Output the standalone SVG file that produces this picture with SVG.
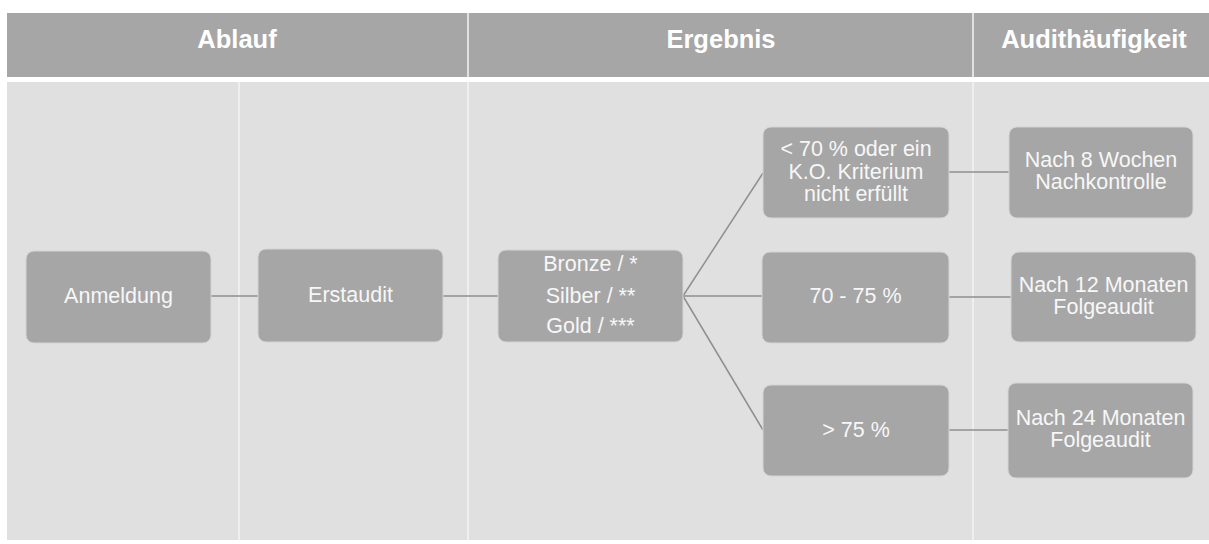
<svg xmlns="http://www.w3.org/2000/svg" width="1209" height="544" viewBox="0 0 1209 544">
<style>
.hdr{fill:#a6a6a6}
.body{fill:#e0e0e0}
.sep{stroke:#f4f4f4;stroke-width:1.5}
.node rect{fill:#a6a6a6;stroke:#d4d4d4;stroke-width:1}
.node text{font-family:"Liberation Sans",Arial,sans-serif;font-size:21.5px;fill:#f7f7f7;text-anchor:middle}
.htxt{font-family:"Liberation Sans",Arial,sans-serif;font-size:25.5px;font-weight:bold;fill:#ffffff;text-anchor:middle}
.conn line{stroke:#8f8f8f;stroke-width:1.5}
</style>
<rect x="0" y="0" width="1209" height="544" fill="#ffffff"/>
<g id="header">
<rect class="hdr" x="7" y="13" width="1202" height="64"/>
<line class="sep" x1="468" y1="13" x2="468" y2="77"/>
<line class="sep" x1="973" y1="13" x2="973" y2="77"/>
<text class="htxt" x="237" y="48">Ablauf</text>
<text class="htxt" x="721" y="48">Ergebnis</text>
<text class="htxt" x="1094" y="48">Audithäufigkeit</text>
</g>
<g id="columns">
<rect class="body" x="7" y="82" width="1202" height="458"/>
<line class="sep" x1="239" y1="82" x2="239" y2="540"/>
<line class="sep" x1="468" y1="82" x2="468" y2="540"/>
<line class="sep" x1="973" y1="82" x2="973" y2="540"/>
</g>
<g id="connectors" class="conn">
<line x1="211" y1="296" x2="258" y2="296"/>
<line x1="443" y1="296" x2="498" y2="296"/>
<line x1="683" y1="296" x2="763" y2="173"/>
<line x1="683" y1="296" x2="762" y2="296"/>
<line x1="683" y1="296" x2="763" y2="430"/>
<line x1="949" y1="172" x2="1009" y2="172"/>
<line x1="949" y1="297" x2="1011" y2="297"/>
<line x1="949" y1="430" x2="1008" y2="430"/>
</g>
<g id="n-anmeldung" class="node">
<rect x="26" y="251" width="185" height="92" rx="8"/>
<text x="118.5" y="303">Anmeldung</text>
</g>
<g id="n-erstaudit" class="node">
<rect x="258" y="249" width="185" height="93" rx="8"/>
<text x="350.5" y="302">Erstaudit</text>
</g>
<g id="n-ergebnis" class="node">
<rect x="498" y="250" width="185" height="92" rx="8"/>
<text x="590.5" y="271">Bronze / *</text>
<text x="590.5" y="302.5">Silber / **</text>
<text x="590.5" y="333">Gold / ***</text>
</g>
<g id="n-ko" class="node">
<rect x="763" y="127" width="186" height="91" rx="8"/>
<text x="856" y="156">&lt; 70 % oder ein</text>
<text x="856" y="178.5">K.O. Kriterium</text>
<text x="856" y="201">nicht erfüllt</text>
</g>
<g id="n-7075" class="node">
<rect x="762" y="252" width="187" height="91" rx="8"/>
<text x="855.5" y="303">70 - 75 %</text>
</g>
<g id="n-75" class="node">
<rect x="763" y="385" width="186" height="91" rx="8"/>
<text x="856" y="437">&gt; 75 %</text>
</g>
<g id="n-8wochen" class="node">
<rect x="1009" y="127" width="184" height="91" rx="8"/>
<text x="1101" y="166.5">Nach 8 Wochen</text>
<text x="1101" y="189">Nachkontrolle</text>
</g>
<g id="n-12monate" class="node">
<rect x="1011" y="252" width="185" height="90" rx="8"/>
<text x="1103.5" y="291.5">Nach 12 Monaten</text>
<text x="1103.5" y="313.5">Folgeaudit</text>
</g>
<g id="n-24monate" class="node">
<rect x="1008" y="383" width="185" height="95" rx="8"/>
<text x="1100.5" y="425">Nach 24 Monaten</text>
<text x="1100.5" y="447">Folgeaudit</text>
</g>
</svg>
